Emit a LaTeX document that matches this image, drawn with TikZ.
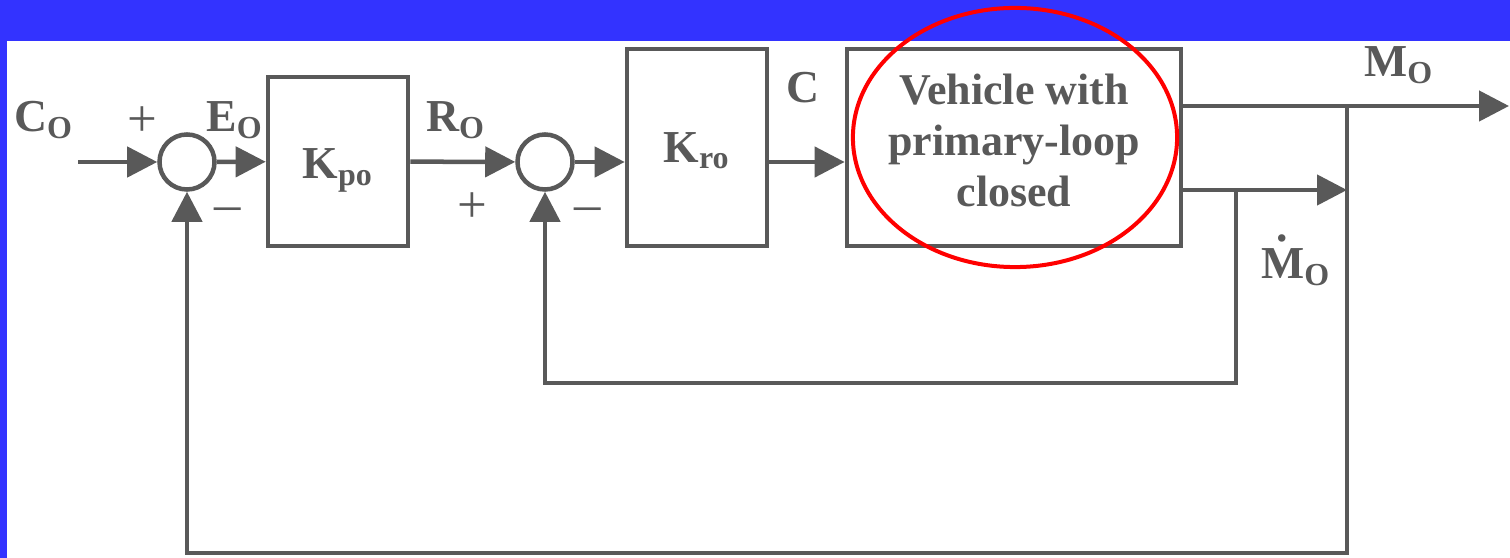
\documentclass[tikz,border=0pt]{standalone}
\usepackage{fontspec}
\setmainfont{Liberation Serif}
\usetikzlibrary{arrows.meta,calc}
\definecolor{ink}{HTML}{595959}
\definecolor{slideblue}{HTML}{3333FF}
\tikzset{
  blk/.style={draw=ink, line width=0.045cm, minimum width=1.40cm},
  sum/.style={draw=ink, circle, line width=0.045cm, minimum size=0.55cm, inner sep=0pt},
  sig/.style={draw=ink, line width=0.045cm, -{Triangle[length=0.30cm,width=0.30cm]}},
  lbl/.style={text=ink, font=\fontsize{13}{15}\selectfont\bfseries, inner sep=0pt},
  sgn/.style={text=ink, font=\fontsize{15}{15}\selectfont, inner sep=0pt}
}
\newcommand{\mdot}{\ooalign{\hidewidth\raisebox{0.82em}{.}\hidewidth\cr M}}

\begin{document}
\begin{tikzpicture}[x=0.01cm,y=-0.01cm]
        \useasboundingbox (0,0) rectangle (1510,558);
        \fill[slideblue] (0,0) rectangle (1510,41); % slide frame
        \fill[slideblue] (0,0) rectangle (7,558);

        \coordinate (cin) at (78,162);
        \node[sum] (sum1) at (187,162) {};
        \node[blk, minimum height=1.69cm] (kpo) at (338,161.5) {};
        \node[sum] (sum2) at (545,162) {};
        \node[blk, minimum height=1.97cm] (kro) at (697,147.5) {};
        \node[blk, minimum width=3.34cm, minimum height=1.97cm] (veh) at (1014,147.5) {};
        \coordinate (mout) at (1509,106);
        \coordinate (mtap) at (1347,106); % M_O pick-off
        \coordinate (mdtap) at (1236,190); % dM_O pick-off
        \coordinate (fb2) at (1236,383);
        \coordinate (fb1) at (1347,553);

        % block texts
        \node[lbl] (tkpo) at ($(kpo)+(0,9)$) {K\textsubscript{po}};
        \node[lbl] (tkro) at ($(kro)+(0,3)$) {K\textsubscript{ro}};
        \node[lbl, align=center, font=\fontsize{12.5}{14.5}\selectfont\bfseries]
              (tveh) at ($(veh)+(0,-7)$) {Vehicle with\\primary-loop\\closed};

        \draw[sig] (cin) -- (sum1);
        \draw[sig] (sum1) -- (kpo);
        \draw[sig] (kpo) -- (sum2);
        \draw[sig] (sum2) -- (kro.west |- sum2);
        \draw[sig] (kro.east |- sum2) -- (veh.west |- sum2);
        \draw[sig] (veh.east |- mout) -- (mout);
        \draw[sig] (veh.east |- mdtap) -- (mtap |- mdtap);
        \draw[sig] (mdtap) -- (fb2) -| (sum2);
        \draw[sig] (mtap) -- (fb1) -| (sum1);

        \node[lbl] (lco) at (44,120) {C\textsubscript{O}};
        \node[sgn] (p1) at (142,122) {+};
        \node[lbl] (leo) at (235,120) {E\textsubscript{O}};
        \node[sgn] (m1) at (228,215) {\textendash};
        \node[lbl] (lro) at (456,120) {R\textsubscript{O}};
        \node[sgn] (p2) at (472,208) {+};
        \node[sgn] (m2) at (588,215) {\textendash};
        \node[lbl] (lc) at (803,88) {C};
        \node[lbl] (lmo) at (1399,65) {M\textsubscript{O}};
        \node[lbl] (lmd) at (1296,260) {\mdot\textsubscript{O}};

        \draw[red, line width=0.04cm] (1015,137.5) ellipse [x radius=1.62cm, y radius=1.295cm];
    \end{tikzpicture}
\end{document}
